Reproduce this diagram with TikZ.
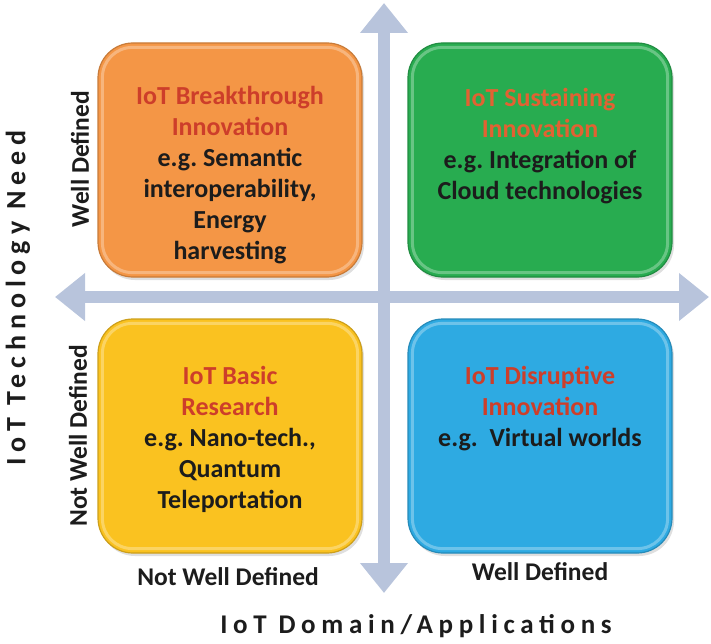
\documentclass[tikz,border=0pt]{standalone}
\usepackage{fontspec}
\setmainfont{Carlito}
\newfontfamily\spacedfont[LetterSpace=21]{Carlito}
\usetikzlibrary{arrows.meta,positioning,shadows}
\definecolor{axisblue}{RGB}{184,196,220}
\definecolor{orangeq}{RGB}{244,150,70}
\definecolor{greenq}{RGB}{40,172,80}
\definecolor{yellowq}{RGB}{250,194,32}
\definecolor{blueq}{RGB}{46,170,226}
\definecolor{titlered}{RGB}{205,62,42}
\definecolor{titleorange}{RGB}{226,98,50}
\definecolor{textdark}{RGB}{28,28,28}
\tikzset{
  quad/.style={rounded corners=35, minimum width=264, minimum height=234,
    draw=#1!82!black, line width=1.2, fill=#1,
    drop shadow={shadow xshift=2pt, shadow yshift=-3pt, opacity=.25}},
  quadtext/.style={align=center, inner sep=0, text=textdark,
    font=\bfseries\fontsize{26}{31}\selectfont},
  sidelabel/.style={text=textdark, font=\bfseries\fontsize{25.5}{30}\selectfont},
  axistitle/.style={text=textdark, font=\spacedfont\bfseries\fontsize{#1}{30}\selectfont},
  bigtip/.style={line width=12, {Triangle[width=46pt,length=30pt]}-{Triangle[width=46pt,length=30pt]}}
}
\frenchspacing
\begin{document}
\begin{tikzpicture}[x=1pt,y=-1pt]
         \useasboundingbox (0,0) rectangle (711,644);
         %assi
         \coordinate (vtop) at (384,3);
         \coordinate (vbot) at (384,593);
         \coordinate (hleft) at (55,297);
         \coordinate (hright) at (709,297);
         \draw[axisblue, bigtip] (hleft) -- (hright);
         \draw[axisblue, bigtip] (vtop) -- (vbot);
         %riquadri
         \node[quad=orangeq] (breakthrough) at (230,160) {};
         \node[quad=greenq] (sustaining) at (540,160) {};
         \node[quad=yellowq] (basic) at (230,436) {};
         \node[quad=blueq] (disruptive) at (540,436) {};
         \foreach \q in {breakthrough,sustaining,basic,disruptive}
           \draw[white, opacity=.3, line width=3, rounded corners=30]
             ([shift={(5,5)}]\q.north west) rectangle ([shift={(-5,-5)}]\q.south east);
         %testi
         \node[quadtext, below=44pt of breakthrough.north] (breakthroughtxt)
           {\textcolor{titlered}{IoT Breakthrough}\\\textcolor{titlered}{Innovation}\\e.g. Semantic\\interoperability,\\Energy\\harvesting};
         \node[quadtext, below=46pt of sustaining.north] (sustainingtxt)
           {\textcolor{titleorange}{IoT Sustaining}\\\textcolor{titleorange}{Innovation}\\e.g. Integration of\\Cloud technologies};
         \node[quadtext, below=48pt of basic.north] (basictxt)
           {\textcolor{titlered}{IoT Basic}\\\textcolor{titlered}{Research}\\e.g. Nano-tech.,\\Quantum\\Teleportation};
         \node[quadtext, below=48pt of disruptive.north] (disruptivetxt)
           {\textcolor{titlered}{IoT Disruptive}\\\textcolor{titlered}{Innovation}\\e.g.\ \ Virtual worlds};
         %etichette
         \node[sidelabel, rotate=90] (needwell) at (80,159) {Well Defined};
         \node[sidelabel, rotate=90] (neednot) at (78,436) {Not Well Defined};
         \node[sidelabel] (domainnot) at (228,577) {Not Well Defined};
         \node[sidelabel] (domainwell) at (540,572) {Well Defined};
         \node[axistitle=28, rotate=90] (needtitle) at (18,298) {IoT Technology Need};
         \node[axistitle=27] (domaintitle) at (416,626) {IoT Domain/Applications};
\end{tikzpicture}
\end{document}
